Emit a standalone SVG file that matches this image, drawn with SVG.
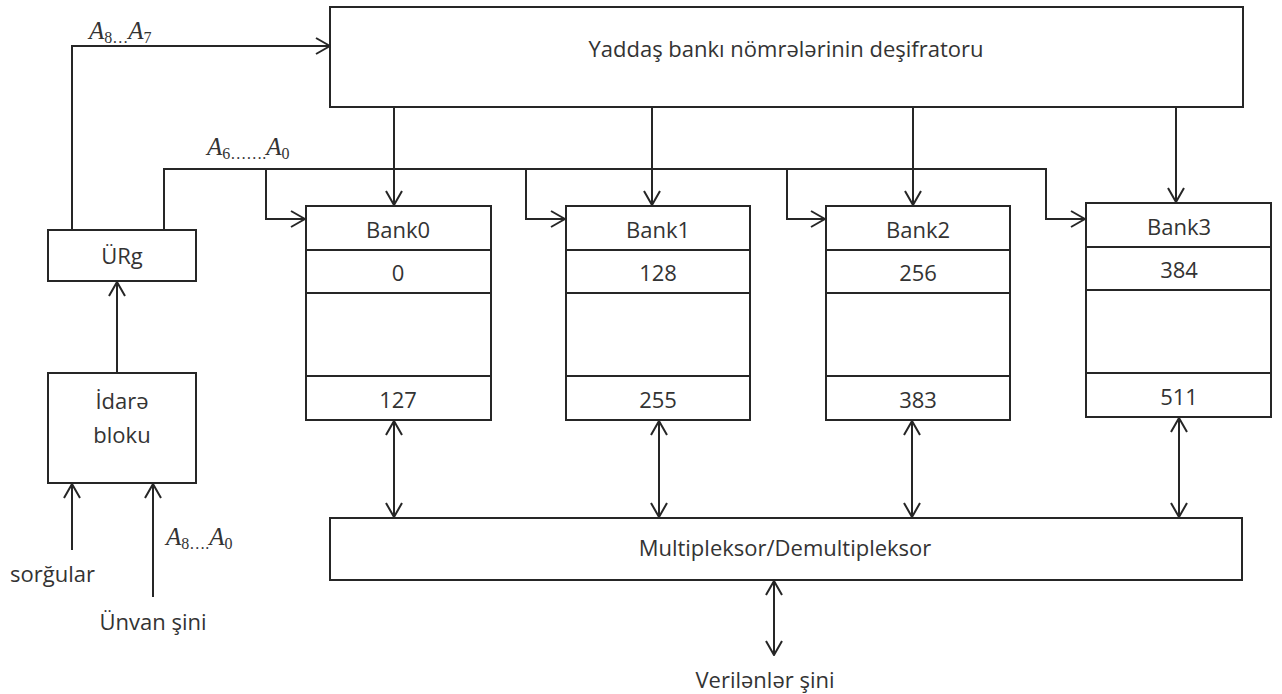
<svg xmlns="http://www.w3.org/2000/svg" width="1282" height="694" viewBox="0 0 1282 694">
<style>
.box{fill:#fff;stroke:#262626;stroke-width:2}
.div{stroke:#262626;stroke-width:1.8}
.t{font-family:"Open Sans","Liberation Sans",sans-serif;font-size:22px;fill:#333;text-anchor:middle}
.tl{font-family:"Open Sans","Liberation Sans",sans-serif;font-size:22px;fill:#333}
.m{font-family:"Liberation Serif","DejaVu Serif",serif;font-style:italic;font-size:25px;fill:#333}
.s{font-style:normal;font-size:16px}
.c{fill:none;stroke:#262626;stroke-width:2}
.a{marker-end:url(#ah)}
.b{marker-start:url(#ah);marker-end:url(#ah)}
</style>
<defs>
<marker id="ah" viewBox="0 0 16 18" refX="15" refY="9" markerWidth="16" markerHeight="18" markerUnits="userSpaceOnUse" orient="auto-start-reverse">
<path d="M1,1 L15,9 L1,17" fill="none" stroke="#262626" stroke-width="2"/>
</marker>
</defs>
<rect width="1282" height="694" fill="#fff"/>

<g id="connectors">
<path class="c a" d="M72,230 V46 H330"/>
<path class="c a" d="M164,230 V169 H1046 V219 H1085"/>
<path class="c a" d="M266,169 V219 H305"/>
<path class="c a" d="M526,169 V219 H565"/>
<path class="c a" d="M787,169 V219 H825"/>
<path class="c a" d="M394,107 V205"/>
<path class="c a" d="M652,107 V205"/>
<path class="c a" d="M913,107 V205"/>
<path class="c a" d="M1176,107 V202"/>
<path class="c b" d="M394,421 V517"/>
<path class="c b" d="M659,421 V517"/>
<path class="c b" d="M912,421 V517"/>
<path class="c b" d="M1179,418 V517"/>
<path class="c b" d="M774,581 V655"/>
<path class="c a" d="M117,373 V282"/>
<path class="c a" d="M72,550 V484"/>
<path class="c a" d="M153,597 V484"/>
</g>

<g id="decoder">
<rect class="box" x="330" y="7" width="913" height="100"/>
<text class="t" x="786" y="57">Yaddaş bankı nömrələrinin deşifratoru</text>
</g>

<g id="urg">
<rect class="box" x="48" y="230" width="148" height="51"/>
<text class="t" x="122" y="264">ÜRg</text>
</g>

<g id="idare">
<rect class="box" x="48" y="373" width="148" height="110"/>
<text class="t" x="122" y="409">İdarə</text>
<text class="t" x="122" y="443">bloku</text>
</g>

<g id="bank0">
<rect class="box" x="306" y="206" width="185" height="214"/>
<line class="div" x1="306" y1="250" x2="491" y2="250"/>
<line class="div" x1="306" y1="293" x2="491" y2="293"/>
<line class="div" x1="306" y1="376" x2="491" y2="376"/>
<text class="t" x="398" y="238">Bank0</text>
<text class="t" x="398" y="281">0</text>
<text class="t" x="398" y="408">127</text>
</g>

<g id="bank1">
<rect class="box" x="566" y="206" width="184" height="214"/>
<line class="div" x1="566" y1="250" x2="750" y2="250"/>
<line class="div" x1="566" y1="293" x2="750" y2="293"/>
<line class="div" x1="566" y1="376" x2="750" y2="376"/>
<text class="t" x="658" y="238">Bank1</text>
<text class="t" x="658" y="281">128</text>
<text class="t" x="658" y="408">255</text>
</g>

<g id="bank2">
<rect class="box" x="826" y="206" width="184" height="214"/>
<line class="div" x1="826" y1="250" x2="1010" y2="250"/>
<line class="div" x1="826" y1="293" x2="1010" y2="293"/>
<line class="div" x1="826" y1="376" x2="1010" y2="376"/>
<text class="t" x="918" y="238">Bank2</text>
<text class="t" x="918" y="281">256</text>
<text class="t" x="918" y="408">383</text>
</g>

<g id="bank3">
<rect class="box" x="1086" y="203" width="185" height="214"/>
<line class="div" x1="1086" y1="247" x2="1271" y2="247"/>
<line class="div" x1="1086" y1="290" x2="1271" y2="290"/>
<line class="div" x1="1086" y1="373" x2="1271" y2="373"/>
<text class="t" x="1179" y="235">Bank3</text>
<text class="t" x="1179" y="278">384</text>
<text class="t" x="1179" y="405">511</text>
</g>

<g id="mux">
<rect class="box" x="330" y="518" width="912" height="62"/>
<text class="t" x="785" y="556">Multipleksor/Demultipleksor</text>
</g>

<g id="labels">
<text class="m" x="89" y="39">A<tspan class="s" dy="4">8…</tspan><tspan dy="-4">A</tspan><tspan class="s" dy="4">7</tspan></text>
<text class="m" x="207" y="155">A<tspan class="s" dy="4">6…….</tspan><tspan dy="-4">A</tspan><tspan class="s" dy="4">0</tspan></text>
<text class="m" x="166" y="545">A<tspan class="s" dy="4">8….</tspan><tspan dy="-4">A</tspan><tspan class="s" dy="4">0</tspan></text>
<text class="tl" x="10" y="582">sorğular</text>
<text class="t" x="153" y="630">Ünvan şini</text>
<text class="t" x="765" y="688">Verilənlər şini</text>
</g>
</svg>
